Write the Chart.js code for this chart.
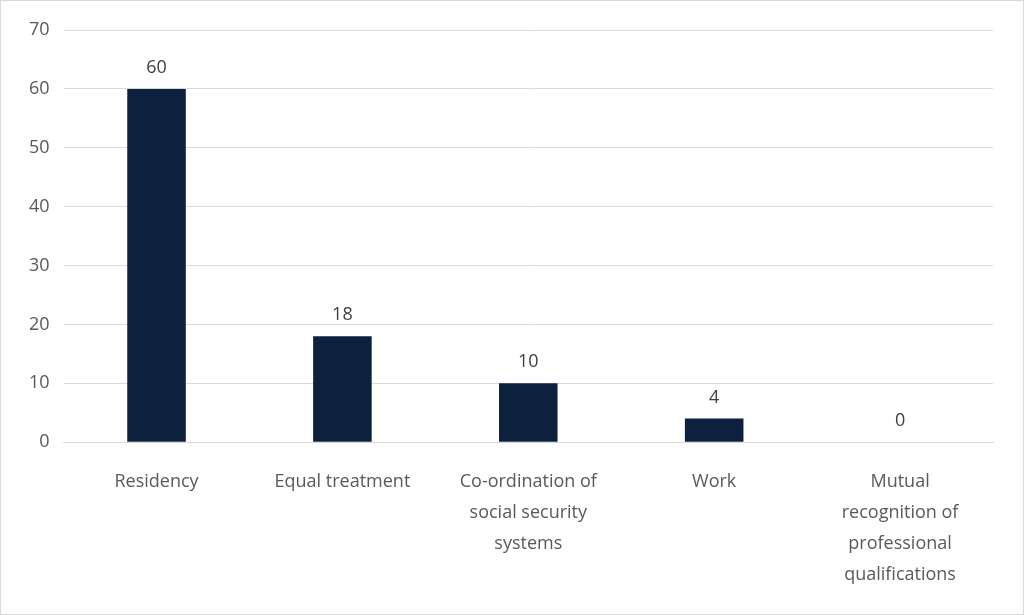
<!DOCTYPE html>
<html>
<head>
<meta charset="utf-8">
<script src="https://cdn.jsdelivr.net/npm/chart.js@4/dist/chart.umd.min.js"></script>
<style>
  html, body { margin: 0; padding: 0; background: #fff; }
  #wrap { width: 1022px; height: 613px; border: 1px solid #d9d9d9; }
</style>
</head>
<body>
<div id="wrap"><canvas id="bars" width="1022" height="613"></canvas></div>
<script>
const categories = [
  "Residency",
  "Equal treatment",
  ["Co-ordination of", "social security", "systems"],
  "Work",
  ["Mutual", "recognition of", "professional", "qualifications"]
];
const counts = [60, 18, 10, 4, 0];

const FONT = "'Open Sans', sans-serif";

// draws the value above each bar
const valueLabels = {
  id: "valueLabels",
  afterDatasetsDraw(chart) {
    const c = chart.ctx;
    const meta = chart.getDatasetMeta(0);
    c.save();
    c.font = "18px " + FONT;
    c.fillStyle = "#404040";
    c.textAlign = "center";
    c.textBaseline = "bottom";
    meta.data.forEach((bar, i) => {
      c.fillText(String(counts[i]), bar.x, bar.y - 12);
    });
    c.restore();
  }
};

new Chart(document.getElementById("bars"), {
  type: "bar",
  data: {
    labels: categories,
    datasets: [{
      data: counts,
      backgroundColor: "#0d213f",
      categoryPercentage: 1,
      barPercentage: 0.315
    }]
  },
  options: {
    responsive: false,
    animation: false,
    layout: { padding: { left: 14, right: 30, top: 29, bottom: 8 } },
    plugins: { legend: { display: false }, tooltip: { enabled: false } },
    scales: {
      y: {
        min: 0, max: 70,
        ticks: { stepSize: 10, color: "#595959", padding: 14,
          font: { size: 18, family: FONT } },
        grid: { color: "#d9d9d9", drawTicks: false },
        border: { display: false }
      },
      x: {
        ticks: { color: "#595959", padding: 16, maxRotation: 0,
          font: { size: 18, family: FONT, lineHeight: 1.72 } },
        grid: { display: false },
        border: { color: "#d9d9d9" }
      }
    }
  },
  plugins: [valueLabels]
});
</script>
</body>
</html>
